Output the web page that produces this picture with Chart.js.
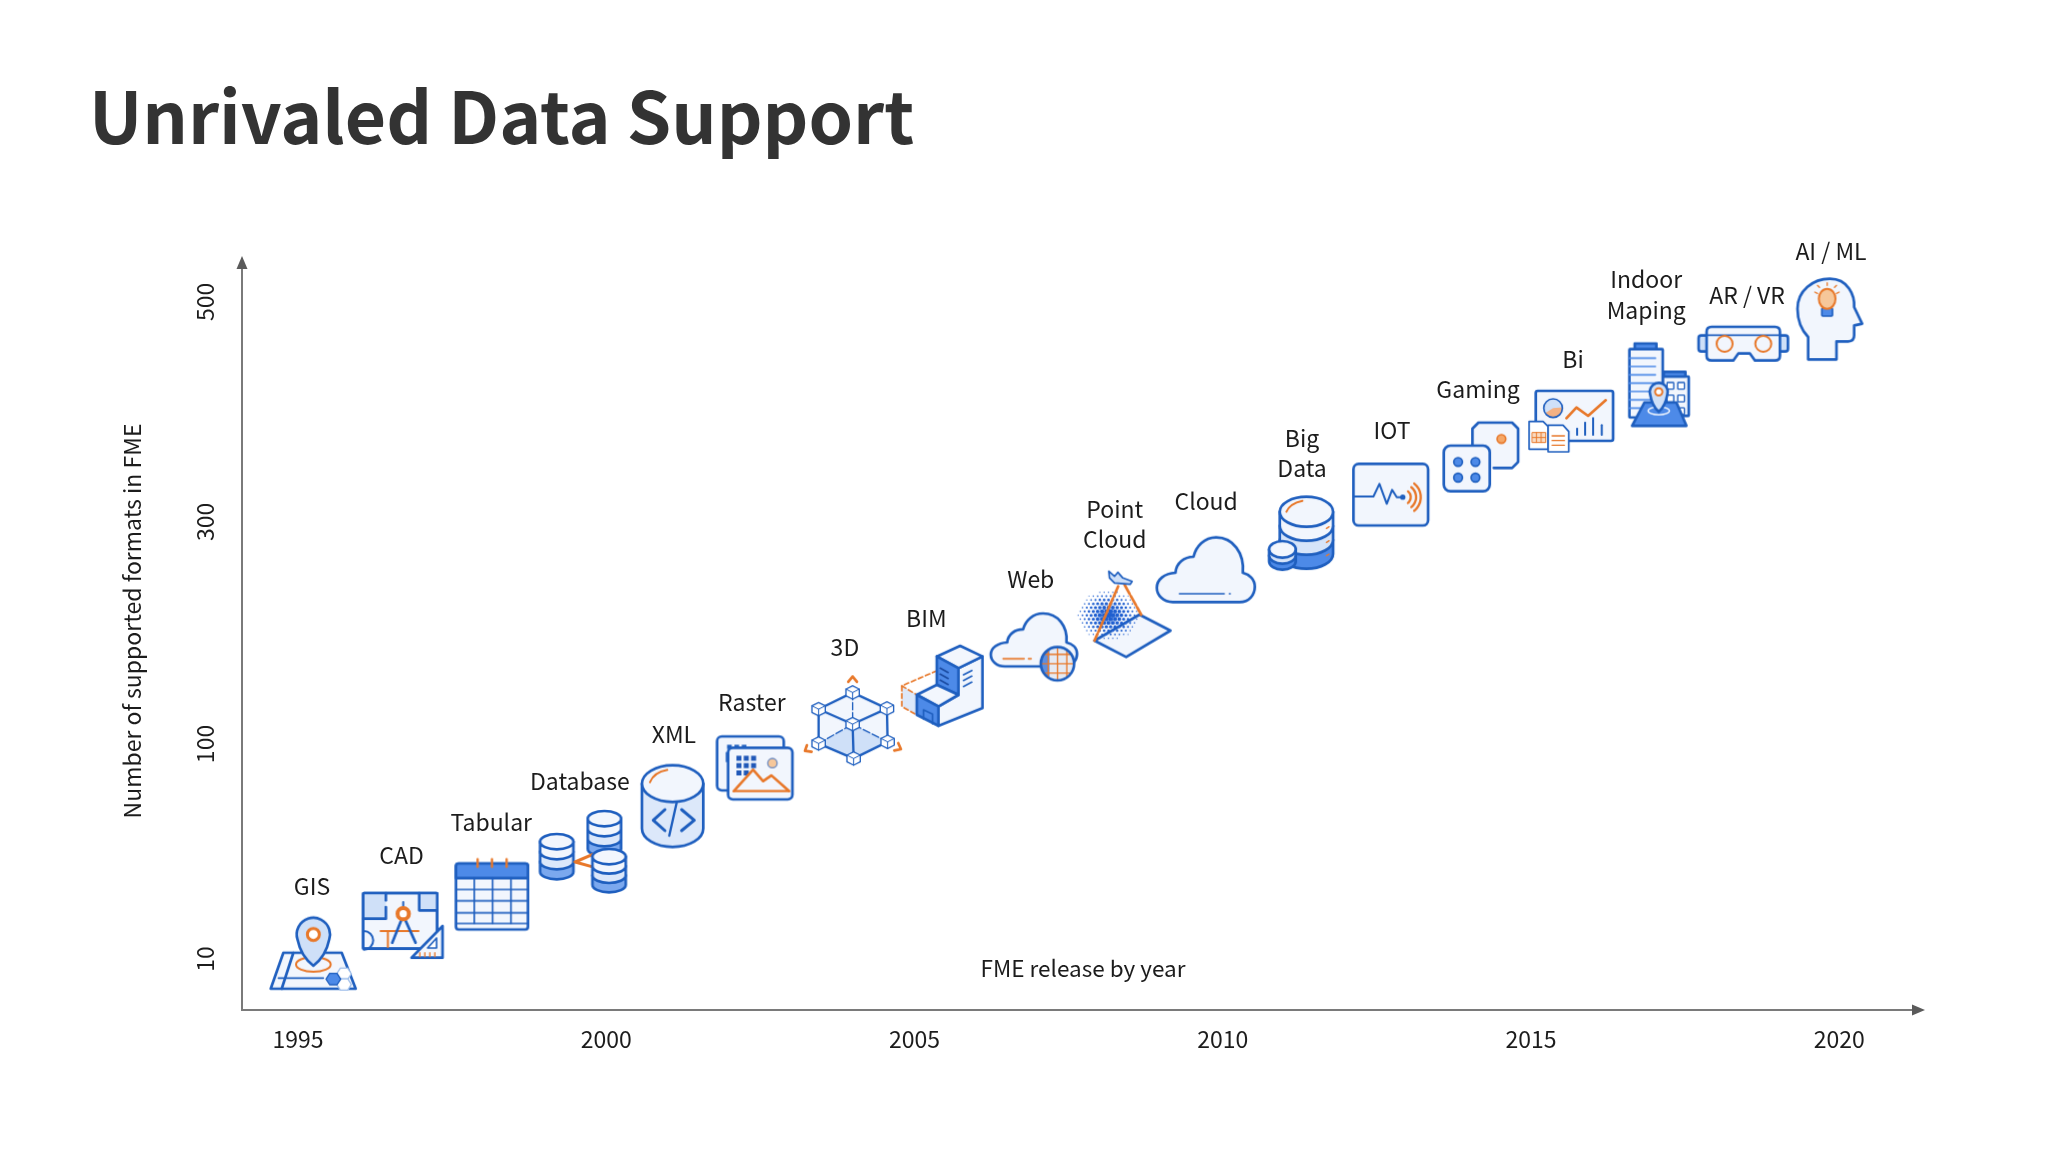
<!DOCTYPE html>
<html>
<head>
<meta charset="utf-8">
<title>Unrivaled Data Support</title>
<script src="https://cdn.jsdelivr.net/npm/chart.js@4/dist/chart.umd.js"></script>
<style>
  html, body { margin: 0; padding: 0; background: #fff; }
  #wrap { width: 2048px; height: 1152px; }
</style>
</head>
<body>
<div id="wrap"><canvas id="chart"></canvas></div>
<script>
// data
const itemLabels = ['GIS', 'CAD', 'Tabular', 'Database', 'XML', 'Raster', '3D', 'BIM', 'Web', 'Point\nCloud',
  'Cloud', 'Big\nData', 'IOT', 'Gaming', 'Bi', 'Indoor\nMaping', 'AR / VR', 'AI / ML'];
const releaseYears = [1995.25, 1996.71, 1998.15, 1999.62, 2001.08, 2002.41, 2004.0, 2005.45, 2006.95, 2008.41,
  2009.73, 2011.27, 2012.73, 2014.19, 2015.65, 2017.08, 2018.44, 2019.85];
const formatCounts = [12, 24, 37, 55, 74, 90, 121, 152, 187, 217, 257, 290, 325, 359, 391, 425, 462, 484];
const yTickValues = [10, 100, 300, 500];
const xTickStep = 5;

// y axis is not linear: tick labels are placed at these distances (px) above "10"
const yTickSlots = [0, 215, 437, 657];
const ySlotMin = -51, ySlotMax = 727;

const BLUE = '#1f5fbf', PALE = '#f2f6fd', MID = '#cfe0f8', SOLID = '#4d8ae8', TIER = '#7ba8ee', ORANGE = '#e8782a', PEACH = '#f6c79a';
const FONT = '"Noto Sans CJK SC", "Noto Sans", sans-serif';

// label position relative to its icon (first line centre)
const labelOffsets = [[-1.5, -68], [-2, -70], [-1, -72], [-3, -70], [1, -72], [-3, -66], [-8, -73], [-16, -68], [-4, -68],
  [-10, -105], [0, -68], [1, -95], [1, -64], [-3, -68], [2, -63], [-13, -105], [4, -49], [1, -68]];

class StopScale extends Chart.LinearScale {
  static id = 'stops';
  static defaults = Chart.LinearScale.defaults;
  buildTicks() {
    return yTickValues.map(value => ({ value }));
  }
  getPixelForValue(v) {
    let i = 0;
    while (i < yTickValues.length - 2 && v > yTickValues[i + 1]) i++;
    const t = (v - yTickValues[i]) / (yTickValues[i + 1] - yTickValues[i]);
    const slot = yTickSlots[i] + t * (yTickSlots[i + 1] - yTickSlots[i]);
    return this.getPixelForDecimal((slot - ySlotMin) / (ySlotMax - ySlotMin));
  }
}
Chart.register(StopScale);

// ─── icon helpers ─────────────────────────────────────────────────
// icons are drawn in 3x units, x0..y1 is their bounding box

function makeIcon(x0, y0, x1, y1, draw) {
  const pad = 12;
  const c = document.createElement('canvas');
  c.width = Math.ceil((x1 - x0 + pad * 2) / 3);
  c.height = Math.ceil((y1 - y0 + pad * 2) / 3);
  const ctx = c.getContext('2d');
  ctx.scale(1 / 3, 1 / 3);
  ctx.translate(pad - x0, pad - y0);
  ctx.lineWidth = 8;
  ctx.lineJoin = 'round';
  ctx.lineCap = 'round';
  ctx.strokeStyle = BLUE;
  draw(ctx);
  return c;
}
function poly(ctx, pts, fill, stroke, lw) {
  ctx.beginPath();
  pts.forEach((p, i) => i ? ctx.lineTo(p[0], p[1]) : ctx.moveTo(p[0], p[1]));
  if (fill) { ctx.closePath(); ctx.fillStyle = fill; ctx.fill(); }
  if (stroke !== null) {
    ctx.strokeStyle = stroke || BLUE;
    ctx.lineWidth = lw || 8;
    ctx.stroke();
  }
}
function rrect(ctx, x, y, w, h, r, fill, stroke, lw) {
  ctx.beginPath();
  ctx.roundRect(x, y, w, h, r);
  if (fill) { ctx.fillStyle = fill; ctx.fill(); }
  if (stroke !== null) { ctx.strokeStyle = stroke || BLUE; ctx.lineWidth = lw || 8; ctx.stroke(); }
}
function circle(ctx, x, y, r, fill, stroke, lw) {
  ctx.beginPath();
  ctx.arc(x, y, r, 0, Math.PI * 2);
  if (fill) { ctx.fillStyle = fill; ctx.fill(); }
  if (stroke !== null) { ctx.strokeStyle = stroke || BLUE; ctx.lineWidth = lw || 8; ctx.stroke(); }
}
function pin(ctx, cx, cy, r, tipY, fill) {
  ctx.beginPath();
  ctx.arc(cx, cy, r, Math.PI * 0.9, Math.PI * 0.1);
  ctx.quadraticCurveTo(cx + r * 0.75, cy + (tipY - cy) * 0.7, cx, tipY);
  ctx.quadraticCurveTo(cx - r * 0.75, cy + (tipY - cy) * 0.7, cx - r * Math.cos(Math.PI * 0.1), cy + r * Math.sin(Math.PI * 0.1));
  ctx.closePath();
  ctx.fillStyle = fill;
  ctx.fill();
  ctx.strokeStyle = BLUE;
  ctx.lineWidth = 8;
  ctx.stroke();
}
function drum(ctx, cx, y, rx, ry, h, fill) {
  ctx.beginPath();
  ctx.moveTo(cx - rx, y);
  ctx.lineTo(cx - rx, y + h);
  ctx.ellipse(cx, y + h, rx, ry, 0, Math.PI, 0, true);
  ctx.lineTo(cx + rx, y);
  ctx.closePath();
  ctx.fillStyle = fill;
  ctx.fill();
  ctx.strokeStyle = BLUE;
  ctx.lineWidth = 8;
  ctx.stroke();
}
function topDisc(ctx, cx, y, rx, ry) {
  ctx.beginPath();
  ctx.ellipse(cx, y, rx, ry, 0, 0, Math.PI * 2);
  ctx.fillStyle = PALE;
  ctx.fill();
  ctx.strokeStyle = BLUE;
  ctx.lineWidth = 8;
  ctx.stroke();
}
function stack(ctx, cx, y, rx, ry, h, fills) {
  for (let i = fills.length - 1; i >= 0; i--) drum(ctx, cx, y + i * h, rx, ry, h, fills[i]);
  topDisc(ctx, cx, y, rx, ry);
}
function cloudPath(ctx) {
  ctx.beginPath();
  ctx.moveTo(70, 578);
  ctx.lineTo(270, 578);
  ctx.bezierCurveTo(300, 578, 316, 555, 316, 532);
  ctx.bezierCurveTo(316, 510, 300, 495, 280, 490);
  ctx.bezierCurveTo(285, 430, 250, 384, 200, 384);
  ctx.bezierCurveTo(165, 384, 140, 410, 132, 442);
  ctx.bezierCurveTo(105, 442, 80, 460, 78, 490);
  ctx.bezierCurveTo(45, 492, 22, 510, 22, 535);
  ctx.bezierCurveTo(22, 558, 42, 578, 70, 578);
  ctx.closePath();
}
function cube(ctx, x, y) {
  const s = 20;
  poly(ctx, [[x, y - s], [x + s, y - s / 2], [x + s, y + s / 2], [x, y + s], [x - s, y + s / 2], [x - s, y - s / 2]], '#fff', BLUE, 4);
  poly(ctx, [[x - s, y - s / 2], [x, y], [x + s, y - s / 2]], null, BLUE, 3);
  poly(ctx, [[x, y], [x, y + s]], null, BLUE, 3);
}

const icons = [
  makeIcon(30, 472, 290, 690, ctx => { // GIS
    poly(ctx, [[70, 577], [245, 577], [287, 685], [32, 685]], PALE);
    poly(ctx, [[100, 577], [65, 685]]);
    poly(ctx, [[55, 653], [190, 653]], null, BLUE, 5);
    ctx.beginPath(); ctx.ellipse(160, 612, 52, 22, 0, 0, Math.PI * 2); ctx.strokeStyle = ORANGE; ctx.lineWidth = 6; ctx.stroke();
    const hex = (x, y, f) => poly(ctx, [[x - 22, y], [x - 11, y - 17], [x + 11, y - 17], [x + 22, y], [x + 11, y + 17], [x - 11, y + 17]], f, f === SOLID ? BLUE : '#9dbdea', 4);
    hex(252, 640, '#fff'); hex(252, 672, '#fff'); hex(220, 656, SOLID);
    pin(ctx, 160, 522, 50, 616, MID);
    circle(ctx, 160, 522, 18, '#fff', ORANGE, 9);
  }),
  makeIcon(308, 400, 552, 600, ctx => { // CAD
    rrect(ctx, 310, 403, 222, 167, 2, PALE);
    poly(ctx, [[310, 403], [378, 403], [378, 480], [310, 480]], MID, null);
    poly(ctx, [[478, 403], [532, 403], [532, 455], [478, 455]], MID, null);
    rrect(ctx, 310, 403, 222, 167, 2, null);
    poly(ctx, [[378, 403], [378, 425]]); poly(ctx, [[378, 445], [378, 480], [310, 480]]);
    poly(ctx, [[478, 403], [478, 455], [532, 455]]);
    ctx.beginPath(); ctx.arc(312, 545, 28, -Math.PI / 2, Math.PI / 2); ctx.strokeStyle = BLUE; ctx.lineWidth = 6; ctx.stroke();
    poly(ctx, [[362, 517], [476, 517]], null, ORANGE, 6);
    poly(ctx, [[384, 517], [384, 565]], null, ORANGE, 6);
    poly(ctx, [[430, 430], [430, 450]], null, BLUE, 6);
    poly(ctx, [[397, 552], [430, 470], [467, 552]], null, BLUE, 8);
    circle(ctx, 430, 465, 17, '#fff', ORANGE, 12);
    poly(ctx, [[548, 502], [548, 597], [455, 597]], PALE);
    poly(ctx, [[530, 538], [530, 568], [503, 568]], '#fff', BLUE, 5);
    [480, 495, 510, 525].forEach(x => poly(ctx, [[x, 582], [x, 594]], null, ORANGE, 4));
  }),
  makeIcon(588, 295, 808, 510, ctx => { // Tabular
    rrect(ctx, 590, 310, 216, 198, 8, PALE);
    rrect(ctx, 590, 310, 216, 44, [8, 8, 0, 0], SOLID);
    [645, 700, 755].forEach(x => poly(ctx, [[x, 354], [x, 490]], null, BLUE, 5));
    [388, 422, 458, 490].forEach(y => poly(ctx, [[590, y], [806, y]], null, BLUE, 5));
    [655, 698, 742].forEach(x => poly(ctx, [[x, 297], [x, 320]], null, ORANGE, 7));
  }),
  makeIcon(838, 152, 1098, 400, ctx => { // Database
    const tiers = [PALE, '#dbe7fa', TIER];
    stack(ctx, 890, 247, 50, 23, 30, tiers);
    stack(ctx, 1033, 178, 50, 23, 30, tiers);
    poly(ctx, [[998, 285], [945, 308], [1003, 324]], null, ORANGE, 9);
    stack(ctx, 1047, 292, 50, 23, 28, tiers);
  }),
  makeIcon(1143, 12, 1333, 265, ctx => { // XML
    drum(ctx, 1238, 72, 92, 55, 135, '#dce8fa');
    topDisc(ctx, 1238, 72, 92, 55);
    ctx.beginPath(); ctx.moveTo(1170, 68); ctx.quadraticCurveTo(1182, 38, 1222, 31); ctx.strokeStyle = ORANGE; ctx.lineWidth = 6; ctx.stroke();
    poly(ctx, [[1215, 150], [1180, 182], [1215, 213]], null, BLUE, 9);
    poly(ctx, [[1265, 150], [1303, 182], [1265, 213]], null, BLUE, 9);
    poly(ctx, [[1250, 130], [1228, 228]], null, BLUE, 7);
  }),
  makeIcon(20, 525, 250, 718, ctx => { // Raster
    rrect(ctx, 22, 528, 200, 162, 14, PALE);
    [52, 74, 96].forEach(x => rrect(ctx, x, 553, 14, 13, 0, BLUE, null));
    rrect(ctx, 48, 575, 10, 30, 0, BLUE, null);
    rrect(ctx, 55, 562, 193, 155, 14, PALE);
    [80, 102, 124].forEach(x => [586, 608, 630].forEach(y => { if (!(x === 124 && y === 630)) rrect(ctx, x, y, 15, 15, 0, '#2058b8', null); }));
    circle(ctx, 188, 608, 14, PEACH, '#6d8bc0', 4);
    poly(ctx, [[72, 692], [130, 628], [160, 662], [185, 645], [238, 692]], null, ORANGE, 7);
    ctx.closePath(); ctx.stroke();
  }),
  makeIcon(278, 348, 578, 620, ctx => { // 3D
    const n = { top: [427, 400], lt: [325, 450], rt: [530, 448], c: [427, 495], lb: [325, 553], rb: [532, 548], bot: [430, 598] };
    poly(ctx, [n.top, n.rt, n.rb, n.bot, n.lb, n.lt], PALE, null);
    poly(ctx, [n.c, n.rb, n.bot, n.lb], '#cfe0f8', null);
    [[n.top, n.lt], [n.top, n.rt], [n.lt, n.c], [n.rt, n.c], [n.c, n.bot], [n.lb, n.bot], [n.rb, n.bot], [n.lt, n.lb], [n.rt, n.rb]]
      .forEach(e => poly(ctx, e, null, BLUE, 7));
    ctx.setLineDash([22, 8]);
    poly(ctx, [n.top, n.c], null, BLUE, 4);
    poly(ctx, [n.lb, n.c], null, BLUE, 4);
    poly(ctx, [n.rb, n.c], null, BLUE, 4);
    ctx.setLineDash([]);
    Object.values(n).forEach(p => cube(ctx, p[0], p[1]));
    poly(ctx, [[414, 368], [427, 352], [440, 368]], null, ORANGE, 8);
    poly(ctx, [[290, 558], [284, 575], [304, 578]], null, ORANGE, 8);
    poly(ctx, [[564, 552], [572, 570], [552, 574]], null, ORANGE, 8);
  }),
  makeIcon(572, 258, 820, 500, ctx => { // BIM
    poly(ctx, [[575, 378], [620, 405], [620, 465], [575, 440]], '#dce8fa', null);
    ctx.setLineDash([14, 9]);
    poly(ctx, [[680, 333], [575, 378], [575, 440], [620, 465]], null, ORANGE, 5);
    poly(ctx, [[575, 378], [620, 405]], null, ORANGE, 5);
    ctx.setLineDash([]);
    poly(ctx, [[685, 440], [745, 405], [745, 325], [817, 290], [817, 445], [685, 498]], PALE);
    poly(ctx, [[680, 290], [750, 258], [817, 290], [745, 325]], PALE);
    poly(ctx, [[680, 290], [745, 325], [745, 405], [680, 375]], SOLID);
    poly(ctx, [[620, 405], [680, 375], [745, 405], [685, 440]], PALE);
    poly(ctx, [[620, 405], [685, 440], [685, 498], [620, 465]], SOLID);
    poly(ctx, [[640, 478], [640, 450], [667, 463], [667, 492]], null, BLUE, 5);
    [325, 343, 361].forEach(y => poly(ctx, [[690, y], [714, y + 13]], null, '#1a4aa0', 5));
    [345, 362, 380].forEach(y => poly(ctx, [[760, y], [785, y - 13]], null, BLUE, 5));
  }),
  makeIcon(845, 162, 1108, 365, ctx => { // Web
    ctx.save();
    ctx.translate(845, 162); ctx.scale(0.88, 0.82); ctx.translate(-22, -384);
    cloudPath(ctx);
    ctx.restore();
    ctx.fillStyle = PALE; ctx.fill(); ctx.strokeStyle = BLUE; ctx.lineWidth = 8; ctx.stroke();
    poly(ctx, [[882, 298], [945, 298]], null, ORANGE, 5);
    poly(ctx, [[958, 298], [966, 298]], null, ORANGE, 5);
    circle(ctx, 1045, 313, 50, '#e6eaf3', null);
    ctx.save();
    ctx.beginPath(); ctx.arc(1045, 313, 50, 0, Math.PI * 2); ctx.clip();
    rrect(ctx, 995, 263, 26, 100, 0, '#5d8fe0', null);
    ctx.restore();
    [-28, 0, 28].forEach(d => {
      const half = Math.sqrt(2500 - d * d);
      poly(ctx, [[1045 + d, 313 - half], [1045 + d, 313 + half]], null, ORANGE, 4);
      poly(ctx, [[1045 - half, 313 + d], [1045 + half, 313 + d]], null, ORANGE, 4);
    });
    circle(ctx, 1045, 313, 50, null, BLUE, 8);
  }),
  makeIcon(1105, 30, 1385, 295, ctx => { // Point Cloud
    poly(ctx, [[1155, 243], [1290, 165], [1383, 213], [1250, 292]], PALE);
    ctx.fillStyle = '#1f5fd0';
    for (let i = -8; i <= 8; i++) {
      for (let j = -7; j <= 7; j++) {
        const x = 1197 + i * 13 + (j % 2 ? 6.5 : 0), y = 167 + j * 11.5;
        const d = Math.hypot((x - 1197) / 94, (y - 167) / 74);
        if (d < 1) { ctx.beginPath(); ctx.arc(x, y, 6.5 * (1 - d) + 1.6, 0, Math.PI * 2); ctx.fill(); }
      }
    }
    ctx.setLineDash([32, 7]);
    poly(ctx, [[1226, 80], [1155, 243]], null, ORANGE, 8);
    poly(ctx, [[1245, 75], [1295, 165]], null, ORANGE, 8);
    ctx.setLineDash([]);
    poly(ctx, [[1198, 35], [1215, 50], [1225, 38], [1240, 55], [1268, 65], [1262, 74], [1215, 70], [1200, 55]], MID, BLUE, 5);
  }),
  makeIcon(20, 382, 318, 580, ctx => { // Cloud
    cloudPath(ctx);
    ctx.fillStyle = PALE; ctx.fill(); ctx.strokeStyle = BLUE; ctx.lineWidth = 8; ctx.stroke();
    poly(ctx, [[90, 553], [224, 553]], null, BLUE, 5);
    poly(ctx, [[240, 553], [242, 553]], null, BLUE, 5);
  }),
  makeIcon(355, 255, 553, 482, ctx => { // Big Data
    stack(ctx, 470, 305, 80, 45, 42, [PALE, '#d6e4f9', SOLID]);
    ctx.beginPath(); ctx.moveTo(410, 305); ctx.quadraticCurveTo(420, 280, 458, 272); ctx.strokeStyle = ORANGE; ctx.lineWidth = 6; ctx.stroke();
    [[530, 355], [530, 397], [530, 437]].forEach(p => poly(ctx, [[p[0], p[1]], [p[0] + 8, p[1] - 5]], null, ORANGE, 4));
    stack(ctx, 398, 418, 40, 25, 18, ['#d6e4f9', SOLID]);
  }),
  makeIcon(608, 158, 840, 350, ctx => { // IOT
    rrect(ctx, 612, 162, 224, 185, 16, PALE);
    poly(ctx, [[612, 260], [672, 260], [690, 222], [712, 282], [728, 240], [742, 262], [760, 262]], null, BLUE, 6);
    circle(ctx, 760, 262, 8, BLUE, null);
    [22, 38, 52].forEach(r => { ctx.beginPath(); ctx.arc(762, 262, r, -0.9, 0.9); ctx.strokeStyle = ORANGE; ctx.lineWidth = 7; ctx.stroke(); });
  }),
  makeIcon(880, 36, 1108, 248, ctx => { // Gaming
    rrect(ctx, 968, 39, 137, 136, 18, PALE, null);
    poly(ctx, [[968, 105], [968, 57], [986, 39], [1087, 39], [1105, 57], [1105, 157], [1087, 175], [1032, 175]]);
    circle(ctx, 1055, 88, 13, '#f5a868', ORANGE, 5);
    rrect(ctx, 882, 108, 138, 137, 20, PALE);
    [[925, 157], [977, 157], [925, 204], [977, 204]].forEach(p => circle(ctx, p[0], p[1], 13, SOLID, BLUE, 5));
  }),
  makeIcon(25, 362, 282, 552, ctx => { // Bi
    rrect(ctx, 48, 365, 232, 150, 6, PALE);
    circle(ctx, 100, 417, 28, MID, null);
    ctx.beginPath(); ctx.moveTo(100, 417); ctx.arc(100, 417, 28, -0.1, 2.6); ctx.closePath(); ctx.fillStyle = '#f4b183'; ctx.fill();
    circle(ctx, 100, 417, 28, null, BLUE, 5);
    poly(ctx, [[140, 447], [170, 415], [205, 440], [258, 393]], null, ORANGE, 8);
    [[172, 478], [196, 460], [220, 447], [246, 468]].forEach(b => poly(ctx, [[b[0], 497], [b[0], b[1]]], null, BLUE, 6));
    poly(ctx, [[28, 457], [70, 457], [85, 472], [85, 540], [28, 540]], '#fff', BLUE, 5);
    rrect(ctx, 38, 490, 40, 30, 0, '#f9dcc4', ORANGE, 3);
    [50, 64].forEach(x => poly(ctx, [[x, 490], [x, 520]], null, ORANGE, 3));
    poly(ctx, [[38, 505], [78, 505]], null, ORANGE, 3);
    poly(ctx, [[85, 468], [130, 468], [147, 487], [147, 548], [85, 548]], '#fff', BLUE, 5);
    [500, 514, 528].forEach(y => poly(ctx, [[97, y], [134, y]], null, ORANGE, 4));
  }),
  makeIcon(325, 220, 508, 472, ctx => { // Indoor Maping
    rrect(ctx, 427, 322, 78, 118, 2, PALE);
    rrect(ctx, 430, 308, 65, 14, 0, SOLID);
    [340, 378, 416].forEach(y => [440, 472].forEach(x => rrect(ctx, x, y, 20, 20, 2, '#fff', BLUE, 4)));
    rrect(ctx, 327, 240, 100, 205, 2, PALE);
    rrect(ctx, 343, 223, 65, 17, 0, SOLID);
    [267, 292, 317, 342, 367, 392, 417].forEach(y => poly(ctx, [[327, y], [405, y]], null, SOLID, 5));
    poly(ctx, [[372, 400], [468, 400], [498, 470], [335, 470]], SOLID);
    ctx.beginPath(); ctx.ellipse(415, 425, 32, 12, 0, 0, Math.PI * 2); ctx.strokeStyle = '#fff'; ctx.lineWidth = 4; ctx.stroke();
    pin(ctx, 415, 368, 27, 428, MID);
    circle(ctx, 415, 368, 11, '#fff', ORANGE, 6);
  }),
  makeIcon(533, 168, 806, 275, ctx => { // AR / VR
    rrect(ctx, 536, 197, 34, 48, 8, MID);
    rrect(ctx, 770, 197, 34, 48, 8, MID);
    ctx.beginPath();
    ctx.moveTo(575, 171); ctx.lineTo(765, 171); ctx.quadraticCurveTo(780, 171, 780, 186);
    ctx.lineTo(780, 258); ctx.quadraticCurveTo(780, 272, 765, 272); ctx.lineTo(705, 272);
    ctx.lineTo(690, 251); ctx.lineTo(655, 251); ctx.lineTo(640, 272); ctx.lineTo(575, 272);
    ctx.quadraticCurveTo(560, 272, 560, 258); ctx.lineTo(560, 186); ctx.quadraticCurveTo(560, 171, 575, 171);
    ctx.closePath();
    ctx.fillStyle = PALE; ctx.fill(); ctx.strokeStyle = BLUE; ctx.lineWidth = 8; ctx.stroke();
    poly(ctx, [[560, 196], [780, 196]], null, BLUE, 5);
    circle(ctx, 614, 222, 24, null, ORANGE, 6);
    circle(ctx, 730, 222, 24, null, ORANGE, 6);
  }),
  makeIcon(830, 28, 1030, 275, ctx => { // AI / ML
    ctx.beginPath();
    ctx.moveTo(865, 272); ctx.lineTo(865, 205);
    ctx.bezierCurveTo(842, 180, 833, 150, 833, 120);
    ctx.bezierCurveTo(833, 65, 880, 30, 930, 30);
    ctx.bezierCurveTo(985, 30, 1005, 80, 1003, 115);
    ctx.lineTo(1027, 165); ctx.lineTo(1003, 170); ctx.lineTo(1003, 200);
    ctx.quadraticCurveTo(1003, 218, 985, 218);
    ctx.lineTo(950, 218); ctx.lineTo(950, 272); ctx.closePath();
    ctx.fillStyle = PALE; ctx.fill(); ctx.strokeStyle = BLUE; ctx.lineWidth = 8; ctx.stroke();
    rrect(ctx, 906, 118, 32, 24, 3, SOLID, BLUE, 5);
    ctx.beginPath(); ctx.ellipse(922, 90, 25, 30, 0, 0, Math.PI * 2); ctx.fillStyle = PEACH; ctx.fill(); ctx.strokeStyle = ORANGE; ctx.lineWidth = 6; ctx.stroke();
    [[885, 70, 893, 74], [893, 50, 899, 56], [922, 42, 922, 50], [950, 50, 944, 56], [958, 70, 950, 74]]
      .forEach(r => poly(ctx, [[r[0], r[1]], [r[2], r[3]]], null, ORANGE, 4));
  }),
];

// ─── plugins ──────────────────────────────────────────────────────

const itemLabelPlugin = {
  id: 'itemLabels',
  afterDatasetsDraw(chart) {
    const ctx = chart.ctx;
    const points = chart.getDatasetMeta(0).data;
    ctx.save();
    ctx.font = '23px ' + FONT;
    ctx.fillStyle = '#1c1c1c';
    ctx.textAlign = 'center';
    ctx.textBaseline = 'middle';
    points.forEach((pt, i) => {
      itemLabels[i].split('\n').forEach((line, k) => {
        ctx.fillText(line, pt.x + labelOffsets[i][0], pt.y + labelOffsets[i][1] + k * 30.5);
      });
    });
    ctx.restore();
  },
};

const axisArrowPlugin = {
  id: 'axisArrows',
  beforeDatasetsDraw(chart) {
    const { ctx, chartArea: a } = chart;
    const tipY = a.top + 24;
    ctx.save();
    ctx.strokeStyle = '#7a7a7a';
    ctx.lineWidth = 2;
    ctx.beginPath();
    ctx.moveTo(a.left, tipY + 8);
    ctx.lineTo(a.left, a.bottom);
    ctx.lineTo(a.right - 8, a.bottom);
    ctx.stroke();
    ctx.fillStyle = '#5a5a5a';
    ctx.beginPath();
    ctx.moveTo(a.left, tipY); ctx.lineTo(a.left + 5.5, tipY + 13); ctx.lineTo(a.left - 5.5, tipY + 13);
    ctx.closePath(); ctx.fill();
    ctx.beginPath();
    ctx.moveTo(a.right + 1, a.bottom); ctx.lineTo(a.right - 12, a.bottom - 5.5); ctx.lineTo(a.right - 12, a.bottom + 5.5);
    ctx.closePath(); ctx.fill();
    ctx.restore();
  },
};

// ─── chart ────────────────────────────────────────────────────────

new Chart(document.getElementById('chart'), {
  type: 'scatter',
  data: {
    datasets: [{
      data: releaseYears.map((year, i) => ({ x: year, y: formatCounts[i] })),
      pointStyle: icons,
      pointRadius: 3,
      clip: false,
    }],
  },
  options: {
    responsive: true,
    maintainAspectRatio: false,
    animation: false,
    events: [],
    layout: { padding: { left: 89, right: 124, top: 0, bottom: 0 } },
    plugins: {
      legend: { display: false },
      tooltip: { enabled: false },
      title: {
        display: true,
        text: 'Unrivaled Data Support',
        align: 'start',
        color: '#333333',
        font: { family: FONT, size: 71.3, weight: 'bold', lineHeight: 1.2 },
        padding: { top: 74, bottom: 72.4 },
      },
    },
    scales: {
      x: {
        type: 'linear',
        min: 1994.09,
        max: 2021.375,
        grid: { display: false, drawTicks: false },
        border: { display: false },
        ticks: {
          stepSize: xTickStep,
          includeBounds: false,
          maxRotation: 0,
          padding: 15,
          color: '#1c1c1c',
          font: { family: FONT, size: 23 },
          callback: v => String(v),
        },
        title: {
          display: true,
          text: 'FME release by year',
          color: '#1c1c1c',
          font: { family: FONT, size: 22.5 },
          padding: { top: 0, bottom: 170.5 },
        },
        afterFit: s => { s.height = 142; },
      },
      y: {
        type: 'stops',
        min: 0,
        max: 600,
        grid: { display: false, drawTicks: false },
        border: { display: false },
        ticks: {
          autoSkip: false,
          minRotation: 90,
          maxRotation: 90,
          crossAlign: 'center',
          padding: 18,
          color: '#1c1c1c',
          font: { family: FONT, size: 23 },
          callback: v => String(v),
        },
        title: {
          display: true,
          text: 'Number of supported formats in FME',
          color: '#1c1c1c',
          font: { family: FONT, size: 23 },
          padding: { top: 29, bottom: 0 },
        },
        afterFit: s => { s.width = 153; },
      },
    },
  },
  plugins: [axisArrowPlugin, itemLabelPlugin],
});
</script>
</body>
</html>
